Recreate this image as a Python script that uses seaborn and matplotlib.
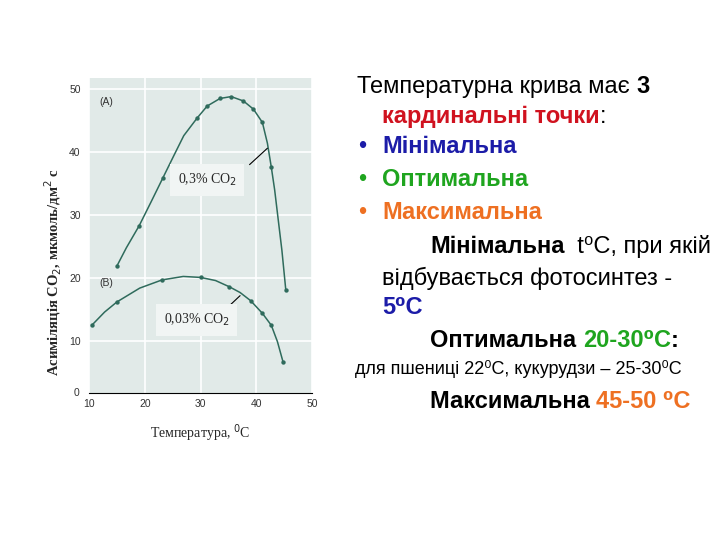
import matplotlib
matplotlib.use("Agg")
import matplotlib.pyplot as plt
import seaborn as sns

# ── DATA ─────────────────────────────────────────────────
# curve A: 0,3% CO2 — measured points
a_temp = [15.0, 19.0, 23.2, 29.4, 31.2, 33.5, 35.5, 37.7, 39.5, 41.1, 42.7, 45.3]
a_assim = [21.9, 28.3, 35.8, 45.4, 47.3, 48.5, 48.8, 48.1, 46.8, 44.7, 37.6, 18.1]
# curve A: drawn trace (markers + points)
a_line_temp = [15.0, 16.7, 19.0, 21.2, 23.2, 25.2, 27.0, 29.4, 31.2, 33.5, 35.5,
               37.7, 39.5, 41.1, 42.0, 42.7, 43.3, 43.8, 44.6, 45.3]
a_line_assim = [21.9, 24.8, 28.3, 32.2, 35.8, 39.4, 42.6, 45.4, 47.3, 48.5, 48.8,
                48.1, 46.8, 44.7, 41.4, 37.6, 34.0, 30.3, 24.4, 18.1]

# curve B: 0,03% CO2 — measured points
b_temp = [10.5, 15.0, 23.1, 30.0, 35.2, 39.0, 41.1, 42.7, 44.8]
b_assim = [12.5, 16.2, 19.7, 20.1, 18.6, 16.4, 14.4, 12.5, 6.7]
b_line_temp = [10.5, 12.8, 15.0, 19.1, 23.1, 26.9, 30.0, 32.7, 35.2, 37.1, 39.0,
               41.1, 42.7, 43.8, 44.8]
b_line_assim = [12.5, 14.6, 16.2, 18.4, 19.7, 20.25, 20.1, 19.6, 18.6, 17.7, 16.4,
                14.4, 12.5, 9.9, 6.7]

x_ticks = [10, 20, 30, 40, 50]
y_ticks = [10, 20, 30, 40, 50]

# ── STYLE ────────────────────────────────────────────────
sns.set_theme(style="white")
plt.rcParams["font.family"] = ["Liberation Sans", "DejaVu Sans"]

LINE = "#2f6b5c"
RED, BLUE, GREEN, ORANGE = "#d0121f", "#1c1ca8", "#1fa51f", "#ee7022"

fig = plt.figure(figsize=(7.2, 5.4), dpi=100)
ax = fig.add_axes([89 / 720, 1 - 393 / 540, (312 - 89) / 720, (393 - 78) / 540])
ax.set_facecolor("#e1eae8")

sns.lineplot(x=a_line_temp, y=a_line_assim, color=LINE, linewidth=1.1, ax=ax,
             sort=False)
sns.lineplot(x=b_line_temp, y=b_line_assim, color=LINE, linewidth=1.1, ax=ax,
             sort=False)
sns.scatterplot(x=a_temp, y=a_assim, color=LINE, s=10, linewidth=0, ax=ax, zorder=3)
sns.scatterplot(x=b_temp, y=b_assim, color=LINE, s=10, linewidth=0, ax=ax, zorder=3)

ax.set_xlim(10, 50)
ax.set_ylim(1.75, 51.75)
ax.set_xticks(x_ticks)
ax.set_yticks(y_ticks)
ax.grid(True, color="white", linewidth=1.2)
ax.set_axisbelow(True)
for side in ["top", "right", "left"]:
    ax.spines[side].set_visible(False)
ax.spines["bottom"].set_color("black")
ax.spines["bottom"].set_linewidth(0.8)
ax.tick_params(axis="x", direction="in", length=3, width=0.8, colors="black",
               labelsize=7.5, labelcolor="#333333", pad=4)
ax.tick_params(axis="y", direction="out", length=4, width=0.8, colors="#333333",
               labelsize=7.5, labelcolor="#333333", pad=2)
ax.annotate("0", xy=(0, 0), xycoords="axes fraction", xytext=(-7, 0),
            textcoords="offset points", ha="right", va="center", fontsize=7.5,
            color="#333333")

# curve labels and pointers
ax.text(11.8, 48.0, "(A)", fontsize=7.5, color="#333333", va="center")
ax.text(11.8, 19.2, "(B)", fontsize=7.5, color="#333333", va="center")
box = dict(boxstyle="square,pad=0.55", fc="#f1f5f4", ec="none")
ax.text(31.2, 35.6, "0,3% CO$_2$", family="Liberation Serif", fontsize=10,
        ha="center", va="center", bbox=box)
ax.text(29.3, 13.3, "0,03% CO$_2$", family="Liberation Serif", fontsize=10,
        ha="center", va="center", bbox=box)
ax.plot([38.8, 42.0], [38.0, 40.6], color="black", linewidth=0.8)
ax.plot([34.7, 37.1], [15.2, 17.2], color="black", linewidth=0.8)

ax.set_ylabel("Асиміляція CO$_2$, мкмоль/дм$^2$ с", family="Liberation Serif",
              fontsize=10.5, fontweight="bold")
ax.yaxis.set_label_coords(-0.11, 0.385)
ax.set_xlabel("Температура, $^0$С", family="Liberation Serif", fontsize=10,
              labelpad=10)

# ── RIGHT-HAND TEXT ──────────────────────────────────────
tx = fig.add_axes([0, 0, 1, 1])
tx.axis("off")
tx.set_xlim(0, 720)
tx.set_ylim(540, 0)


def line_of(x, y, parts, size=17):
    prev = None
    for text, color, weight in parts:
        kw = dict(color=color, fontweight=weight, fontsize=size, va="bottom",
                  ha="left")
        if prev is None:
            prev = tx.text(x, y, text, **kw)
        else:
            prev = tx.annotate(text, xy=(1, 0), xycoords=prev, **kw)


K = "black"
line_of(357, 98, [("Температурна крива має ", K, "normal"), ("3", K, "bold")])
line_of(382, 128, [("кардинальні точки", RED, "bold"), (":", K, "normal")])
for yy, word, col in [(158, "Мінімальна", BLUE), (191, "Оптимальна", GREEN),
                      (224, "Максимальна", ORANGE)]:
    tx.text(358, yy, "•", color=col, fontsize=17, va="bottom", ha="left")
    line_of(382, yy, [(word, col, "bold")])
line_of(430, 258, [("Мінімальна", K, "bold"), ("  t⁰С, при якій", K, "normal")])
line_of(382, 290, [("відбувається фотосинтез -", K, "normal")])
line_of(382, 319, [("5⁰С", BLUE, "bold")])
line_of(430, 352, [("Оптимальна ", K, "bold"), ("20-30⁰С", GREEN, "bold"),
                   (":", K, "bold")])
line_of(355, 378, [("для пшениці 22⁰С, кукурудзи – 25-30⁰С", K, "normal")], size=13)
line_of(430, 413, [("Максимальна ", K, "bold"), ("45-50 ⁰С", ORANGE, "bold")])

fig.savefig("out.png", dpi=100)
